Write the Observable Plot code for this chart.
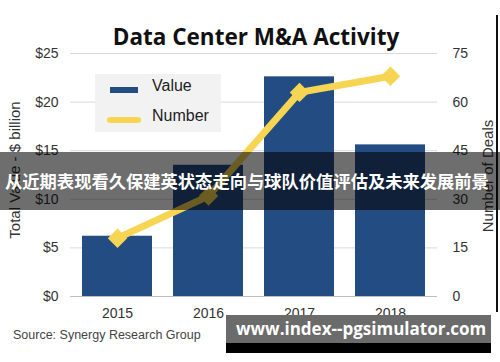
<!DOCTYPE html>
<html>
<head>
<meta charset="utf-8">
<script src="https://cdn.jsdelivr.net/npm/d3@7"></script>
<script src="https://cdn.jsdelivr.net/npm/@observablehq/plot@0.6"></script>
<style>
  html, body { margin: 0; padding: 0; background: #fff; }
  #wrap { position: relative; width: 500px; height: 362px; overflow: hidden; font-family: "Liberation Sans", Arial, sans-serif; }
  #wrap svg { position: absolute; left: 0; top: 0; }
  .abs { position: absolute; white-space: nowrap; }
</style>
</head>
<body>
<div id="wrap"></div>
<script>
const years = ["2015", "2016", "2017", "2018"];
const values = [6.2, 13.5, 22.6, 15.6];      // Total value, $ billion
const numbers = [18, 31, 63, 68];            // Number of deals
const leftTicks = [0, 5, 10, 15, 20, 25];
const rightTicks = [0, 15, 30, 45, 60, 75];

const data = years.map((y, i) => ({year: y, value: values[i], number: numbers[i]}));
const ratio = 75 / 25;

const navy = "#234c82";
const yellow = "#f6d553";

const chart = Plot.plot({
  width: 500,
  height: 362,
  marginTop: 53,
  marginBottom: 66,
  marginLeft: 70,
  marginRight: 63,
  style: {fontFamily: "'Liberation Sans', Arial, sans-serif", fontSize: "14px", color: "#333", background: "transparent"},
  x: {domain: years, paddingInner: 0.23, paddingOuter: 0.13, label: null},
  y: {domain: [0, 25], label: null},
  marks: [
    Plot.ruleY(leftTicks.filter(d => d > 0), {stroke: "#d9d9d9", strokeWidth: 1}),
    Plot.barY(data, {x: "year", y: "value", fill: navy}),
    Plot.ruleY([0], {stroke: "#bfbfbf", strokeWidth: 1.2}),
    Plot.line(data, {x: "year", y: d => d.number / ratio, stroke: yellow, strokeWidth: 7, curve: "linear"}),
    Plot.dot(data, {x: "year", y: d => d.number / ratio, symbol: "diamond2", r: 7.8, fill: yellow, stroke: yellow}),
    Plot.axisY(leftTicks, {anchor: "left", tickSize: 0, tickPadding: 12, tickFormat: d => "$" + d, fontSize: 14, fill: "#333"}),
    Plot.axisY(rightTicks.map(d => d / ratio), {anchor: "right", tickSize: 0, tickPadding: 15, tickFormat: d => Math.round(d * ratio), fontSize: 14, fill: "#333"}),
    Plot.axisX({tickSize: 0, tickPadding: 12, fontSize: 14, fill: "#333", label: null})
  ]
});

const wrap = document.getElementById("wrap");
wrap.appendChild(chart);

function add(html, css) {
  const d = document.createElement("div");
  d.className = "abs";
  d.innerHTML = html;
  Object.assign(d.style, css);
  wrap.appendChild(d);
  return d;
}

// Title
add("Data Center M&amp;A Activity", {left: "0px", width: "512px", textAlign: "center", top: "21px", fontFamily: "'Open Sans', sans-serif", fontWeight: "700", fontSize: "22.5px", color: "#111"});

// Legend
add(`<div style="position:absolute;left:15px;top:13px;width:28px;height:6px;background:${navy}"></div>
<div style="position:absolute;left:57px;top:3px;font-size:16px;color:#222">Value</div>
<div style="position:absolute;left:12px;top:43px;width:34px;height:6px;background:${yellow};border-radius:3px"></div>
<div style="position:absolute;left:57px;top:33px;font-size:16px;color:#222">Number</div>`,
  {left: "95px", top: "74px", width: "126px", height: "58px", background: "#f2f2f2"});

// Axis titles
add("Total Value - $ billion", {left: "14px", top: "170px", transform: "translate(-50%,-50%) rotate(-90deg)", fontSize: "15px", color: "#333"});
add("Number of Deals", {left: "487px", top: "176px", transform: "translate(-50%,-50%) rotate(-90deg)", fontSize: "15px", color: "#333"});

// Source
add("Source: Synergy Research Group", {left: "13px", top: "328px", fontSize: "12.5px", color: "#444"});

// Right black edge
add("", {left: "496px", top: "15px", width: "2px", height: "297px", background: "#111"});

// Overlay band
add("从近期表现看久保建英状态走向与球队价值评估及未来发展前景", {left: "0px", top: "152px", width: "500px", height: "58px", lineHeight: "58px", background: "rgba(0,0,0,0.57)", color: "#fff", fontFamily: "'Noto Sans CJK SC', sans-serif", fontWeight: "700", fontSize: "17.3px", paddingLeft: "5px", boxSizing: "border-box"});

// Watermark box
add("", {left: "226px", top: "343px", width: "265px", height: "10px", background: "#000"});
add("www.index--pgsimulator.com", {left: "226px", top: "315px", width: "265px", height: "28px", lineHeight: "28px", background: "#6b6b6b", color: "#fff", fontFamily: "'Open Sans', sans-serif", fontWeight: "700", fontSize: "17px", paddingLeft: "10px", boxSizing: "border-box"});
</script>
</body>
</html>
